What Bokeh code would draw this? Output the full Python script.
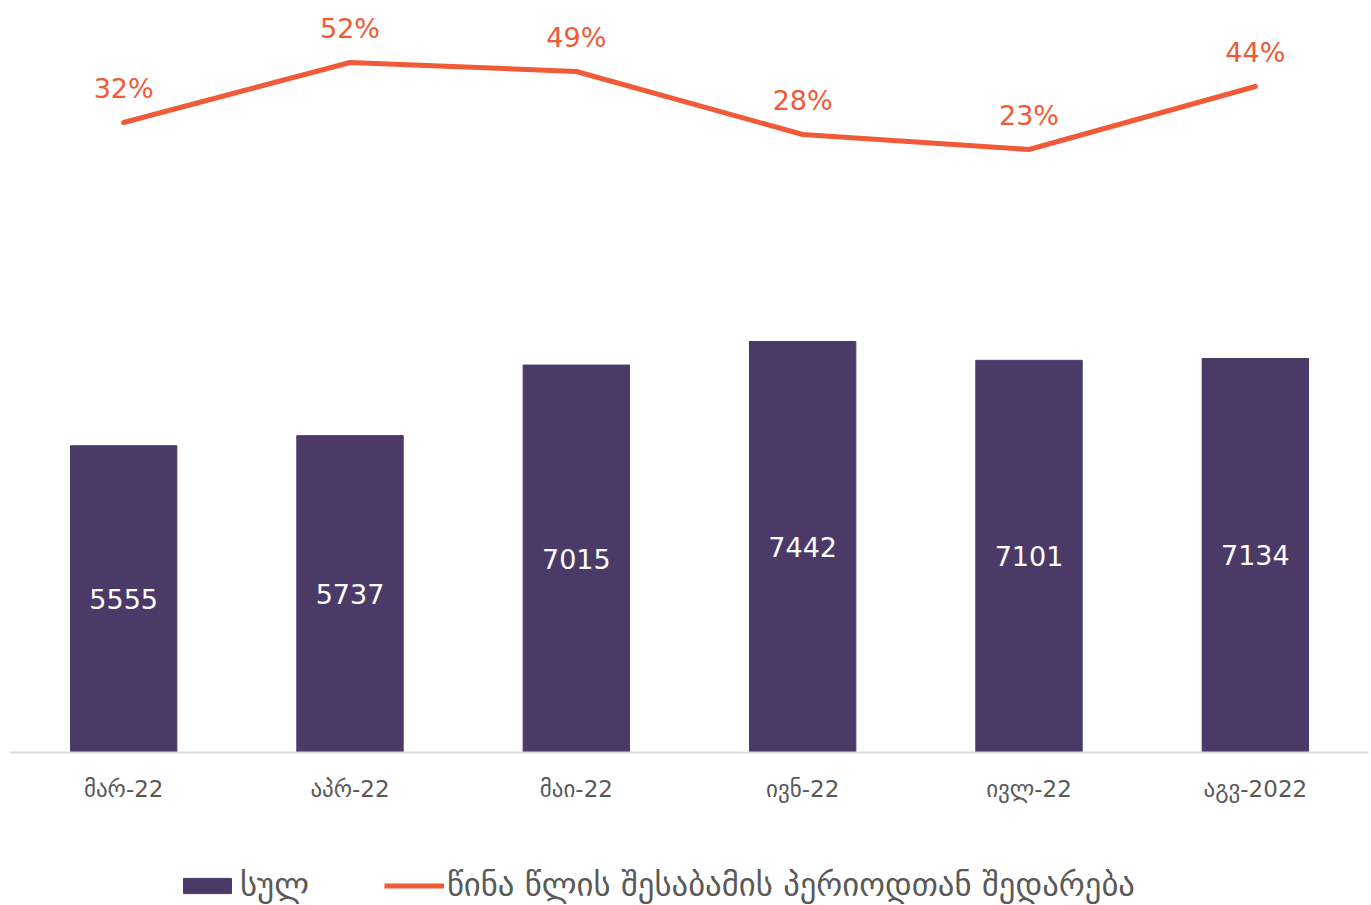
from bokeh.plotting import figure
from bokeh.models import ColumnDataSource, Range1d, LabelSet, Legend, LegendItem, FactorRange
from bokeh.layouts import column
from bokeh.core.properties import value
from bokeh.embed import file_html
from bokeh.resources import INLINE

categories = ["მარ-22", "აპრ-22", "მაი-22", "ივნ-22", "ივლ-22", "აგვ-2022"]
totals = [5555, 5737, 7015, 7442, 7101, 7134]
yoy_pct = [32, 52, 49, 28, 23, 44]
legend_labels = ["სულ", "წინა წლის შესაბამის პერიოდთან შედარება"]

BAR = "#4B3A68"
LINE = "#F05A37"
FONT = "DejaVu Sans"

src = ColumnDataSource(dict(
    cat=categories,
    total=totals,
    half=[v / 2 for v in totals],
    total_txt=[str(v) for v in totals],
    pct=yoy_pct,
    pct_txt=[f"{v}%" for v in yoy_pct],
))

W = 1371
H_MAIN = 815
H_LEG = 90

p = figure(x_range=FactorRange(*categories, range_padding=0), width=W, height=H_MAIN,
           output_backend="svg", toolbar_location=None,
           y_range=Range1d(0, 13435),
           min_border_left=10, min_border_right=3, min_border_top=10,
           min_border_bottom=H_MAIN - 752)
p.extra_y_ranges = {"pct": Range1d(-178, 69.33)}

bars = p.vbar(x="cat", top="total", width=0.47, source=src, color=BAR)
line = p.line(x="cat", y="pct", source=src, y_range_name="pct", color=LINE, line_width=5,
              line_cap="round", line_join="round")

p.add_layout(LabelSet(x="cat", y="half", text="total_txt", source=src, text_color="white",
                      text_font=value(FONT), text_font_size="27px", text_align="center",
                      text_baseline="middle"))
p.add_layout(LabelSet(x="cat", y="pct", text="pct_txt", source=src, y_range_name="pct",
                      y_offset=34, text_color=LINE, text_font=value(FONT), text_font_size="27px",
                      text_align="center", text_baseline="middle"))

p.yaxis.visible = False
p.xgrid.visible = False
p.ygrid.visible = False
p.outline_line_color = None

xa = p.xaxis[0]
xa.axis_line_color = "#D9D9D9"
xa.axis_line_width = 2
xa.major_tick_line_color = None
xa.minor_tick_line_color = None
xa.major_label_text_font = FONT
xa.major_label_text_font_size = "23px"
xa.major_label_text_color = "#595959"
xa.major_label_standoff = 17

# legend strip below the chart (its proxy renderers lie outside the visible ranges)
pl = figure(width=W, height=H_LEG, output_backend="svg", toolbar_location=None,
            x_range=Range1d(60, 80), y_range=Range1d(9000, 10000),
            min_border_left=0, min_border_right=0, min_border_top=0, min_border_bottom=0)
pl.axis.visible = False
pl.grid.visible = False
pl.outline_line_color = None
lb = pl.vbar(x="pct", top="total", width=0.5, source=src, color=BAR)
ll = pl.line(x="pct", y="total", source=src, color=LINE, line_width=5)

legend = Legend(items=[LegendItem(label=legend_labels[0], renderers=[lb]),
                       LegendItem(label=legend_labels[1], renderers=[ll])],
                orientation="horizontal", location=(167, 1),
                label_text_font=FONT, label_text_font_size="32.7px", label_text_color="#595959",
                glyph_width=60, glyph_height=19, label_standoff=3, spacing=75,
                padding=0, margin=0, border_line_color=None, background_fill_alpha=0)
pl.add_layout(legend, "center")

layout = column(p, pl, spacing=0)
open("out.html", "w").write(file_html(layout, INLINE))
